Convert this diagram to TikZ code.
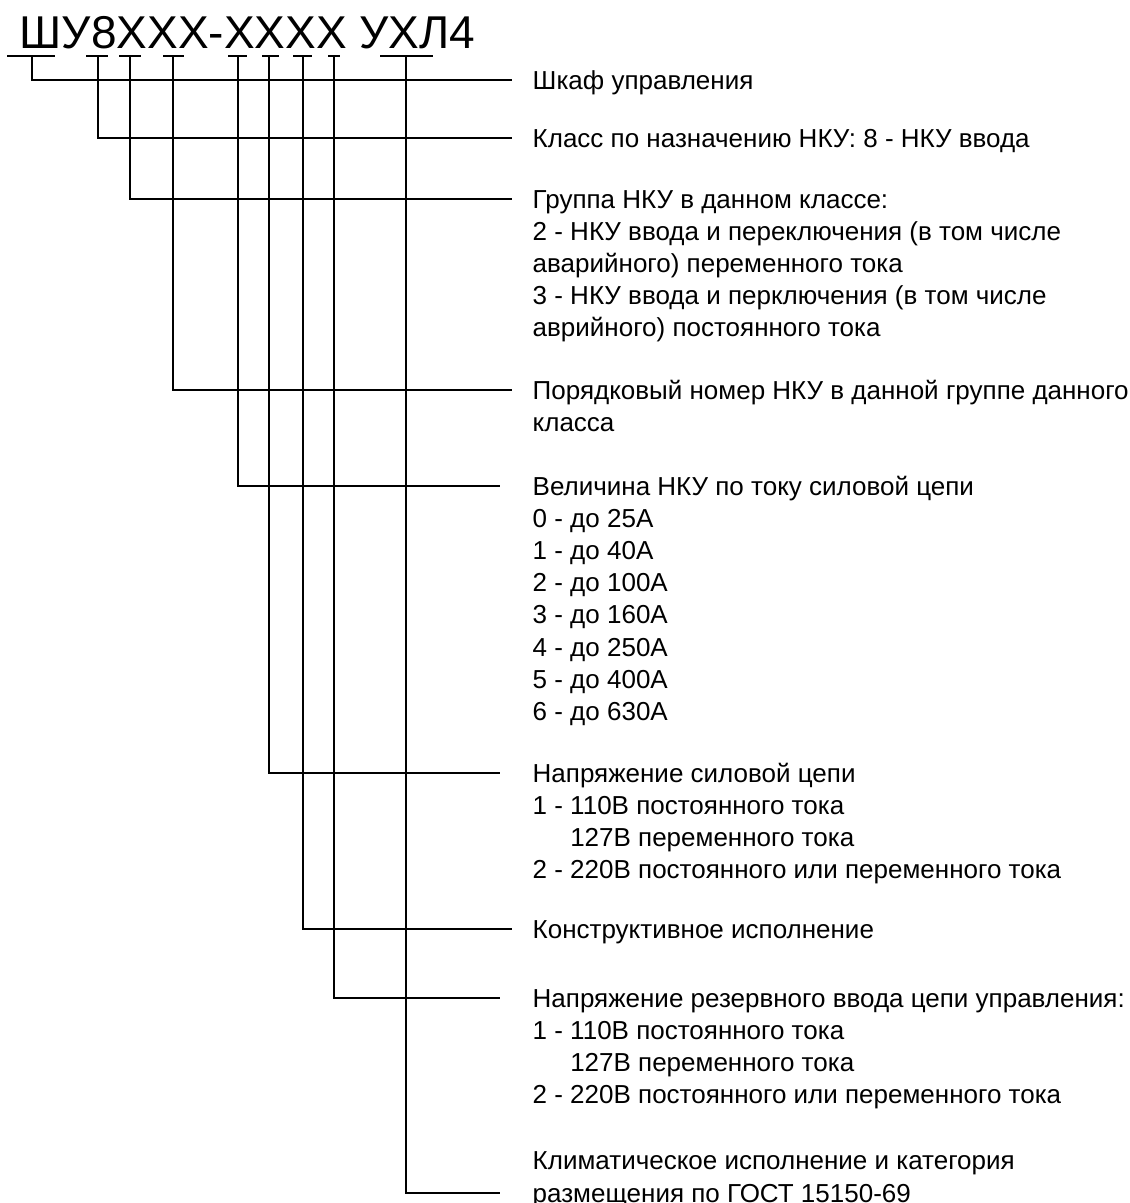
\documentclass[tikz,border=0pt]{standalone}
\usepackage{fontspec}
\setmainfont{Liberation Sans}
\begin{document}
\begin{tikzpicture}[x=1pt,y=-1pt,line width=1.4pt,
  lbl/.style={anchor=base west,inner sep=0pt,font=\fontsize{26}{32.2}\selectfont},
  ttl/.style={anchor=base west,inner sep=0pt,font=\fontsize{46}{50}\selectfont},
  wire/.style={draw=black,line width=1.4pt}]
\useasboundingbox (0,0) rectangle (1130,1203);
\newcommand{\blk}[1]{\begin{tabular}[t]{@{}l@{}}#1\end{tabular}}
% title
\node[ttl] (title) at (19,48) {ШУ8XXX-XXXX УХЛ4};
% underline segments
\foreach \a/\b/\n in {7/55/1,86/108/2,119/141/3,163/184/4,228/247/5,262/279/6,293/312/7,328/340/8,380/433/9}{
  \coordinate (ua\n) at (\a,56);
  \coordinate (ub\n) at (\b,56);
  \draw[wire] (ua\n) -- (ub\n);
}
% vertical drops and horizontal leaders
\foreach \x/\y/\e/\n in {32/80/512/1,98/138/512/2,130/199/512/3,173/390/512/4,238/486/500/5,269/773/500/6,303/929/512/7,334/998/500/8,406/1193/500/9}{
  \coordinate (v\n) at (\x,56);
  \coordinate (e\n) at (\e,\y);
  \draw[wire,line join=miter] (v\n) |- (e\n);
}
% texts
\node[lbl] (t1) at (532,89) {\blk{Шкаф управления}};
\node[lbl] (t2) at (532,147) {\blk{Класс по назначению НКУ: 8 - НКУ ввода}};
\node[lbl] (t3) at (532,208) {\blk{Группа НКУ в данном классе:\\
2 - НКУ ввода и переключения (в том числе\\
аварийного) переменного тока\\
3 - НКУ ввода и перключения (в том числе\\
аврийного) постоянного тока}};
\node[lbl] (t4) at (532,399) {\blk{Порядковый номер НКУ в данной группе данного\\
класса}};
\node[lbl] (t5) at (532,495) {\blk{Величина НКУ по току силовой цепи\\
0 - до 25А\\
1 - до 40А\\
2 - до 100А\\
3 - до 160А\\
4 - до 250А\\
5 - до 400А\\
6 - до 630А}};
\node[lbl] (t6) at (532,782) {\blk{Напряжение силовой цепи\\
1 - 110В постоянного тока\\
\phantom{1 - }127В переменного тока\\
2 - 220В постоянного или переменного тока}};
\node[lbl] (t7) at (532,938) {\blk{Конструктивное исполнение}};
\node[lbl] (t8) at (532,1007) {\blk{Напряжение резервного ввода цепи управления:\\
1 - 110В постоянного тока\\
\phantom{1 - }127В переменного тока\\
2 - 220В постоянного или переменного тока}};
\node[lbl] (t9) at (532,1169.8) {\blk{Климатическое исполнение и категория\\
размещения по ГОСТ 15150-69}};
\end{tikzpicture}
\end{document}
